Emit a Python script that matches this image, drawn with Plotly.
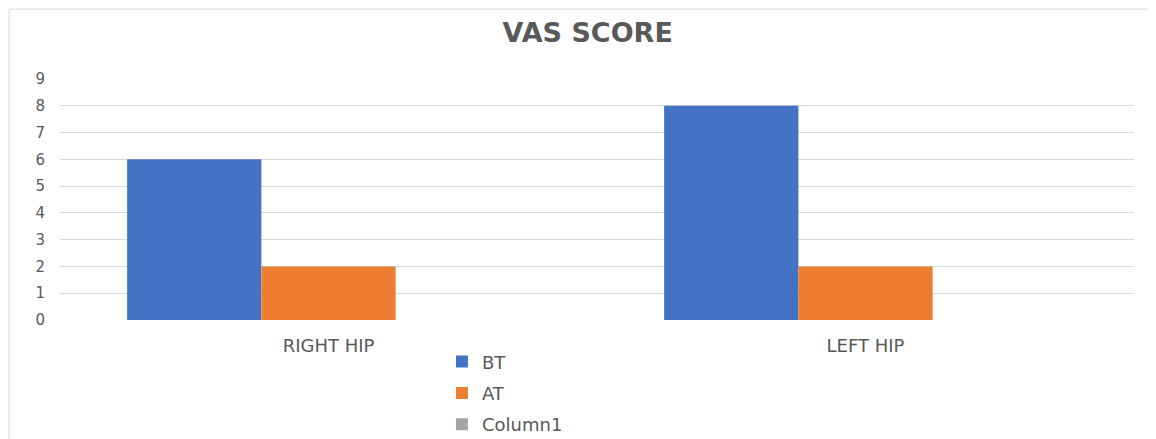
import plotly.graph_objects as go

categories = ["RIGHT HIP", "LEFT HIP"]
bt_values = [6, 8]
at_values = [2, 2]
column1_values = [None, None]
y_ticks = [0, 1, 2, 3, 4, 5, 6, 7, 8, 9]

FONT = "DejaVu Sans, Open Sans, sans-serif"
GREY = "#595959"

fig = go.Figure()
fig.add_trace(go.Bar(name="BT", x=categories, y=bt_values, marker=dict(color="#4472C4", line=dict(width=0)), legendgroup="a"))
fig.add_trace(go.Bar(name="AT", x=categories, y=at_values, marker=dict(color="#ED7D31", line=dict(width=0)), legendgroup="b"))
fig.add_trace(go.Bar(name="Column1", x=categories, y=column1_values, marker=dict(color="#A5A5A5", line=dict(width=0)), legendgroup="c"))

fig.update_layout(
    template="none",
    width=1148, height=431,
    barmode="group", bargap=0.25, bargroupgap=0,
    font=dict(family=FONT, color=GREY, size=15),
    title=dict(text="<b>VAS SCORE</b>", x=0.505, xanchor="center", y=0.942, yanchor="middle",
               font=dict(family=FONT, size=27, color=GREY)),
    margin=dict(l=52, r=22, t=71, b=119, autoexpand=False),
    paper_bgcolor="white", plot_bgcolor="white",
    showlegend=True,
    legend=dict(xref="container", yref="container", x=0.378, y=0.222, xanchor="left", yanchor="top",
                orientation="v", tracegroupgap=5, font=dict(family=FONT, size=18, color=GREY),
                bgcolor="rgba(0,0,0,0)"),
    xaxis=dict(showgrid=False, zeroline=False, showline=False, ticks="",
               ticklabelstandoff=13, tickfont=dict(family=FONT, size=18, color=GREY)),
    yaxis=dict(range=[0, 9], tickvals=y_ticks, showgrid=True, gridcolor="#D9D9D9", gridwidth=1,
               zeroline=False, showline=False, ticks="", ticklabelstandoff=14,
               tickfont=dict(family=FONT, size=15, color=GREY)),
    shapes=[dict(type="rect", xref="paper", yref="paper", x0=-0.0474, x1=1.1, y0=-1.0, y1=1.29,
                 line=dict(color="#D9D9D9", width=1), fillcolor="rgba(0,0,0,0)")],
)

fig.write_html("out.html")
